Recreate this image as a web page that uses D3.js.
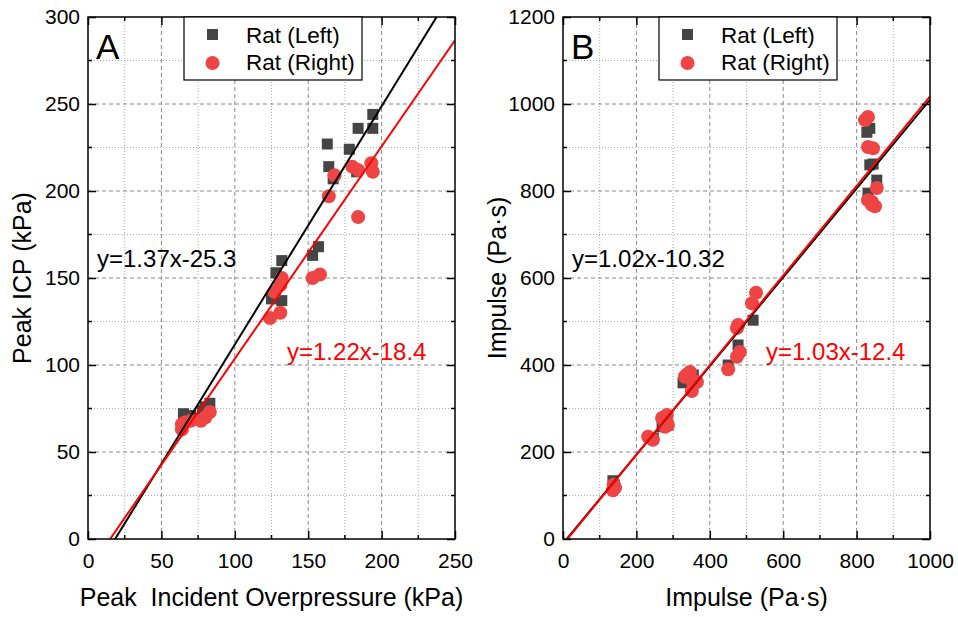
<!DOCTYPE html>
<html>
<head>
<meta charset="utf-8">
<script src="https://cdn.jsdelivr.net/npm/d3@7"></script>
<style>
  body { margin: 0; background: #fff; }
  text { font-family: "Liberation Sans", Arial, sans-serif; }
</style>
</head>
<body>
<script>
// ---- data ----
var seriesNames = ["Rat (Left)", "Rat (Right)"];

// panel A: peak incident overpressure (kPa) vs peak ICP (kPa)
var aLeft = [[65, 72], [66, 70], [70, 71], [78, 74], [83, 78], [80, 76],
  [125, 138], [132, 137], [128, 153], [132, 160], [153, 163], [157, 168],
  [164, 214], [163, 227], [167, 207], [178, 224], [183, 211], [184, 236],
  [194, 236], [194, 244]];
var aRight = [[64, 63], [64, 66], [66, 67], [70, 68], [77, 68], [80, 70], [83, 73],
  [124, 127], [131, 130], [127, 142], [131, 146], [132, 150], [153, 150],
  [158, 152], [164, 197], [168, 209], [180, 214], [184, 212], [184, 185],
  [193, 216], [194, 211]];

// panel B: impulse (Pa·s) vs impulse (Pa·s)
var bLeft = [[136, 134], [140, 124], [246, 232], [270, 258], [286, 262], [278, 270],
  [327, 359], [355, 377], [345, 370], [450, 400], [477, 446], [518, 503],
  [828, 935], [836, 944], [836, 860], [855, 825], [831, 795], [845, 862]];
var bRight = [[138, 125], [142, 118], [136, 112], [232, 235], [245, 228], [270, 278],
  [283, 285], [278, 258], [286, 262], [332, 373], [346, 384], [354, 361],
  [365, 361], [351, 340], [338, 378], [450, 390], [474, 419], [482, 430],
  [474, 485], [477, 492], [515, 542], [526, 566],
  [823, 963], [831, 970], [831, 901], [845, 898], [855, 807], [842, 775],
  [842, 768], [831, 779], [850, 765]];

// linear fits [slope, intercept]
var aFits = [[1.37, -25.3], [1.22, -18.4]];
var bFits = [[1.02, -10.32], [1.03, -12.4]];
var aFitLabels = ["y=1.37x-25.3", "y=1.22x-18.4"];
var bFitLabels = ["y=1.02x-10.32", "y=1.03x-12.4"];

var aXTicks = [0, 50, 100, 150, 200, 250];
var aYTicks = [0, 50, 100, 150, 200, 250, 300];
var bXTicks = [0, 200, 400, 600, 800, 1000];
var bYTicks = [0, 200, 400, 600, 800, 1000, 1200];

var colors = ["#454545", "#ef4444"];
var lineColors = ["#000000", "#ff0000"];

var width = 958, height = 617;
var svg = d3.select("body").append("svg")
  .attr("width", width)
  .attr("height", height);

function panel(opt) {
  var x = d3.scaleLinear().domain(opt.xDomain).range([opt.left, opt.right]);
  var y = d3.scaleLinear().domain(opt.yDomain).range([539, 17]);
  var g = svg.append("g");
  var xStep = opt.xTicks[1] - opt.xTicks[0], yStep = opt.yTicks[1] - opt.yTicks[0];
  var xMinor = d3.range(opt.xDomain[0] + xStep / 2, opt.xDomain[1], xStep);
  var yMinor = d3.range(opt.yDomain[0] + yStep / 2, opt.yDomain[1], yStep);

  // grid
  g.selectAll(".gxm").data(opt.xTicks.slice(1, -1)).enter().append("line")
    .attr("x1", d => x(d)).attr("x2", d => x(d)).attr("y1", y.range()[0]).attr("y2", y.range()[1])
    .attr("stroke", "#8a8a8a").attr("stroke-dasharray", "4,3");
  g.selectAll(".gxn").data(xMinor).enter().append("line")
    .attr("x1", d => x(d)).attr("x2", d => x(d)).attr("y1", y.range()[0]).attr("y2", y.range()[1])
    .attr("stroke", "#aaa").attr("stroke-dasharray", "1,2");
  g.selectAll(".gym").data(opt.yTicks.slice(1, -1)).enter().append("line")
    .attr("y1", d => y(d)).attr("y2", d => y(d)).attr("x1", opt.left).attr("x2", opt.right)
    .attr("stroke", "#8a8a8a").attr("stroke-dasharray", "4,3");
  g.selectAll(".gyn").data(yMinor).enter().append("line")
    .attr("y1", d => y(d)).attr("y2", d => y(d)).attr("x1", opt.left).attr("x2", opt.right)
    .attr("stroke", "#aaa").attr("stroke-dasharray", "1,2");

  var clipId = "clip" + opt.name;
  svg.append("clipPath").attr("id", clipId).append("rect")
    .attr("x", opt.left).attr("y", 17).attr("width", opt.right - opt.left).attr("height", 522);
  var plot = g.append("g").attr("clip-path", "url(#" + clipId + ")");

  // points
  plot.selectAll(".sq").data(opt.left0).enter().append("rect")
    .attr("x", d => x(d[0]) - 5.5).attr("y", d => y(d[1]) - 5.5)
    .attr("width", 11).attr("height", 11).attr("fill", colors[0]);
  plot.selectAll(".ci").data(opt.right0).enter().append("circle")
    .attr("cx", d => x(d[0])).attr("cy", d => y(d[1])).attr("r", 7)
    .attr("fill", colors[1]);

  // fit lines
  var line = d3.line().x(d => x(d[0])).y(d => y(d[1]));
  opt.fits.forEach(function (f, i) {
    var xs = [opt.xDomain[0], opt.xDomain[1]];
    plot.append("path")
      .datum(xs.map(v => [v, f[0] * v + f[1]]))
      .attr("d", line).attr("fill", "none")
      .attr("stroke", lineColors[i]).attr("stroke-width", 2);
  });

  // axes with inside ticks, mirrored
  var fmt = d3.format("d");
  var ax = [
    [d3.axisBottom(x).tickValues(opt.xTicks).tickFormat(fmt).tickSizeInner(-8).tickSizeOuter(0).tickPadding(14), "translate(0,539)", true],
    [d3.axisTop(x).tickValues(opt.xTicks).tickSizeInner(-8).tickSizeOuter(0), "translate(0,17)", false],
    [d3.axisLeft(y).tickValues(opt.yTicks).tickFormat(fmt).tickSizeInner(-8).tickSizeOuter(0).tickPadding(8), "translate(" + opt.left + ",0)", true],
    [d3.axisRight(y).tickValues(opt.yTicks).tickSizeInner(-8).tickSizeOuter(0), "translate(" + opt.right + ",0)", false]
  ];
  ax.forEach(function (a) {
    var ag = g.append("g").attr("transform", a[1]).call(a[0]);
    ag.select(".domain").remove();
    ag.selectAll("line").attr("stroke", "#000").attr("stroke-width", 1.5);
    ag.selectAll("text").attr("font-size", 21).attr("fill", "#000")
      .style("font-family", "'Liberation Sans', Arial, sans-serif");
    if (!a[2]) ag.selectAll("text").remove();
  });
  // minor ticks
  [[539, -4], [17, 4]].forEach(function (p) {
    g.selectAll(null).data(xMinor).enter().append("line")
      .attr("x1", d => x(d)).attr("x2", d => x(d)).attr("y1", p[0]).attr("y2", p[0] + p[1])
      .attr("stroke", "#000").attr("stroke-width", 1.5);
  });
  [[opt.left, 4], [opt.right, -4]].forEach(function (p) {
    g.selectAll(null).data(yMinor).enter().append("line")
      .attr("y1", d => y(d)).attr("y2", d => y(d)).attr("x1", p[0]).attr("x2", p[0] + p[1])
      .attr("stroke", "#000").attr("stroke-width", 1.5);
  });

  // frame
  g.append("rect").attr("x", opt.left).attr("y", 17)
    .attr("width", opt.right - opt.left).attr("height", 522)
    .attr("fill", "none").attr("stroke", "#000").attr("stroke-width", 1.5);

  // legend
  var lg = g.append("g").attr("transform", "translate(" + (opt.left + 96) + ",17)");
  lg.append("rect").attr("width", 178).attr("height", 63)
    .attr("fill", "#fff").attr("stroke", "#000").attr("stroke-width", 1.2);
  lg.append("rect").attr("x", 23).attr("y", 12).attr("width", 11).attr("height", 11).attr("fill", colors[0]);
  lg.append("circle").attr("cx", 28.5).attr("cy", 46).attr("r", 7).attr("fill", colors[1]);
  lg.selectAll(".lt").data(seriesNames).enter().append("text")
    .attr("x", 62).attr("y", (d, i) => 26 + i * 27)
    .attr("font-size", 22.5).text(d => d);

  // panel letter
  g.append("text").attr("x", opt.left + 8).attr("y", 59)
    .attr("font-size", 35).text(opt.name);

  // fit labels
  g.append("text").attr("x", opt.left + 9).attr("y", 267).attr("font-size", 24)
    .attr("fill", lineColors[0]).text(opt.fitLabels[0]);
  g.append("text").attr("x", opt.fitLabelX).attr("y", 360).attr("font-size", 24)
    .attr("fill", lineColors[1]).text(opt.fitLabels[1]);

  // axis titles
  g.append("text").attr("x", (opt.left + opt.right) / 2).attr("y", 606)
    .attr("text-anchor", "middle").attr("font-size", 25)
    .style("white-space", "pre").text(opt.xTitle);
  g.append("text").attr("transform", "translate(" + (opt.left - 57) + ",278) rotate(-90)")
    .attr("text-anchor", "middle").attr("font-size", 25).text(opt.yTitle);
}

panel({
  name: "A", left: 88, right: 455, xDomain: [0, 250], yDomain: [0, 300],
  xTicks: aXTicks, yTicks: aYTicks, left0: aLeft, right0: aRight,
  fits: aFits, fitLabels: aFitLabels, fitLabelX: 287,
  xTitle: "Peak  Incident Overpressure (kPa)", yTitle: "Peak ICP (kPa)"
});
panel({
  name: "B", left: 563, right: 930, xDomain: [0, 1000], yDomain: [0, 1200],
  xTicks: bXTicks, yTicks: bYTicks, left0: bLeft, right0: bRight,
  fits: bFits, fitLabels: bFitLabels, fitLabelX: 766,
  xTitle: "Impulse (Pa\u00b7s)", yTitle: "Impulse (Pa\u00b7s)"
});
</script>
</body>
</html>
